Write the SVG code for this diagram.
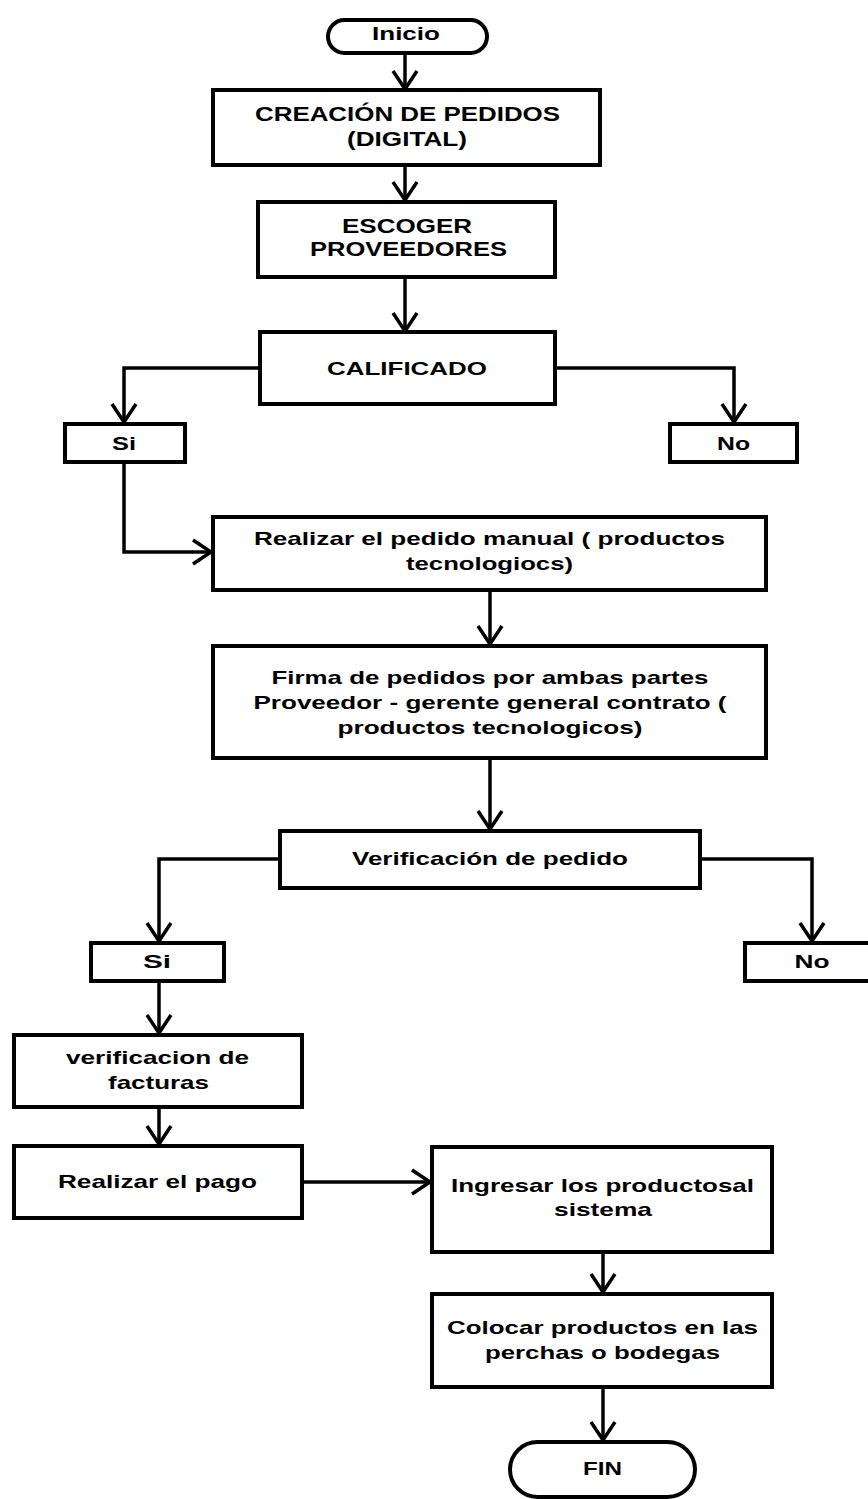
<svg xmlns="http://www.w3.org/2000/svg" width="868" height="1499" viewBox="0 0 868 1499">
<style>
.box{fill:#fff;stroke:#000;stroke-width:4}
.c{fill:none;stroke:#000;stroke-width:3.5;marker-end:url(#arr)}
text{font-family:"Liberation Sans",Arial,sans-serif;font-weight:bold;font-size:19px;text-anchor:middle;fill:#000}
.big{font-size:21px}
</style>
<defs>
<marker id="arr" markerUnits="userSpaceOnUse" orient="auto" refX="0" refY="0" markerWidth="40" markerHeight="40" viewBox="-25 -20 30 40" overflow="visible">
<path d="M-18,-12 L0,0 L-18,12" fill="none" stroke="#000" stroke-width="3.5"/>
</marker>
</defs>
<rect width="868" height="1499" fill="#fff"/>
<g id="connectors">
<path class="c" d="M405,53 V89"/>
<path class="c" d="M405,165 V200"/>
<path class="c" d="M405,277 V331"/>
<path class="c" d="M260,368 H124 V422"/>
<path class="c" d="M555,368 H734 V422"/>
<path class="c" d="M124,462 V552 H211"/>
<path class="c" d="M490,590 V644"/>
<path class="c" d="M490,758 V829"/>
<path class="c" d="M280,859 H159 V941"/>
<path class="c" d="M700,859 H812 V941"/>
<path class="c" d="M159,981 V1033"/>
<path class="c" d="M159,1107 V1144"/>
<path class="c" d="M302,1182 H430"/>
<path class="c" d="M603,1252 V1292"/>
<path class="c" d="M603,1387 V1440"/>
</g>
<g id="inicio"><rect class="box" x="328" y="20" width="159" height="33" rx="16.5"/><text x="406" y="40" textLength="68" lengthAdjust="spacingAndGlyphs">Inicio</text></g>
<g id="creacion"><rect class="box" x="213" y="90" width="387" height="75"/><text class="big" x="407.5" y="120.5" textLength="305" lengthAdjust="spacingAndGlyphs">CREACIÓN DE PEDIDOS</text><text class="big" x="407" y="145.5" textLength="120" lengthAdjust="spacingAndGlyphs">(DIGITAL)</text></g>
<g id="escoger"><rect class="box" x="258" y="202" width="297" height="75"/><text class="big" x="407" y="232.5" textLength="130" lengthAdjust="spacingAndGlyphs">ESCOGER</text><text class="big" x="408.5" y="255.5" textLength="197" lengthAdjust="spacingAndGlyphs">PROVEEDORES</text></g>
<g id="calificado"><rect class="box" x="260" y="332" width="295" height="72"/><text x="407" y="374.5" textLength="160" lengthAdjust="spacingAndGlyphs">CALIFICADO</text></g>
<g id="si1"><rect class="box" x="65" y="424" width="120" height="38"/><text x="124" y="449.5" textLength="24" lengthAdjust="spacingAndGlyphs">Si</text></g>
<g id="no1"><rect class="box" x="670" y="424" width="127" height="38"/><text x="733.5" y="449.5" textLength="33" lengthAdjust="spacingAndGlyphs">No</text></g>
<g id="realizar-pedido"><rect class="box" x="213" y="517" width="553" height="73"/><text x="489.5" y="544.5" textLength="471" lengthAdjust="spacingAndGlyphs">Realizar el pedido manual ( productos</text><text x="489.5" y="569.5" textLength="167" lengthAdjust="spacingAndGlyphs">tecnologiocs)</text></g>
<g id="firma"><rect class="box" x="213" y="646" width="553" height="112"/><text x="490" y="683.5" textLength="437" lengthAdjust="spacingAndGlyphs">Firma de pedidos por ambas partes</text><text x="490" y="708.5" textLength="473" lengthAdjust="spacingAndGlyphs">Proveedor - gerente general contrato (</text><text x="490" y="733.5" textLength="305" lengthAdjust="spacingAndGlyphs">productos tecnologicos)</text></g>
<g id="verificacion"><rect class="box" x="280" y="831" width="420" height="57"/><text x="490" y="864.5" textLength="276" lengthAdjust="spacingAndGlyphs">Verificación de pedido</text></g>
<g id="si2"><rect class="box" x="91" y="943" width="133" height="38"/><text x="157" y="967.5" textLength="28" lengthAdjust="spacingAndGlyphs">Si</text></g>
<g id="no2"><rect class="box" x="745" y="943" width="126" height="38"/><text x="812" y="967.5" textLength="35" lengthAdjust="spacingAndGlyphs">No</text></g>
<g id="facturas"><rect class="box" x="14" y="1035" width="288" height="72"/><text x="157.5" y="1063.5" textLength="183" lengthAdjust="spacingAndGlyphs">verificacion de</text><text x="158.5" y="1088.5" textLength="101" lengthAdjust="spacingAndGlyphs">facturas</text></g>
<g id="pago"><rect class="box" x="14" y="1146" width="288" height="72"/><text x="157.5" y="1187.5" textLength="199" lengthAdjust="spacingAndGlyphs">Realizar el pago</text></g>
<g id="ingresar"><rect class="box" x="432" y="1147" width="340" height="105"/><text x="602.5" y="1191.5" textLength="303" lengthAdjust="spacingAndGlyphs">Ingresar los productosal</text><text x="603" y="1215.5" textLength="98" lengthAdjust="spacingAndGlyphs">sistema</text></g>
<g id="colocar"><rect class="box" x="432" y="1294" width="340" height="93"/><text x="602.5" y="1333.5" textLength="311" lengthAdjust="spacingAndGlyphs">Colocar productos en las</text><text x="602.5" y="1358.5" textLength="235" lengthAdjust="spacingAndGlyphs">perchas o bodegas</text></g>
<g id="fin"><rect class="box" x="510" y="1442" width="185" height="55" rx="27.5"/><text x="602.5" y="1474.5" textLength="39" lengthAdjust="spacingAndGlyphs">FIN</text></g>
</svg>
